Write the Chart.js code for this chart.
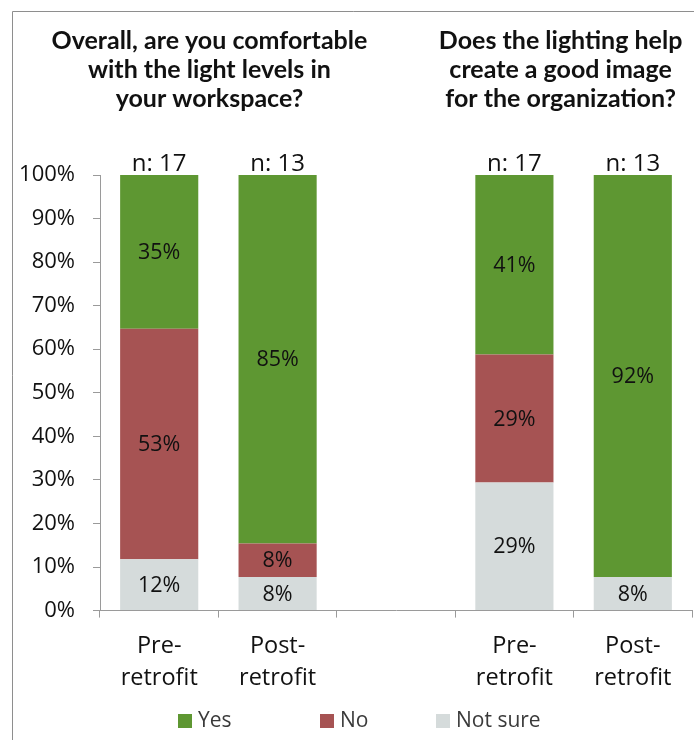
<!DOCTYPE html>
<html>
<head>
<meta charset="utf-8">
<script src="https://cdn.jsdelivr.net/npm/chart.js@4"></script>
<style>
  html, body { margin: 0; padding: 0; background: #fff; }
  #wrap { width: 694px; height: 740px; position: relative; }
</style>
</head>
<body>
<div id="wrap"><canvas id="grafico" width="694" height="740"></canvas></div>
<script>
// Datos
const categorias = [['Pre-', 'retrofit'], ['Post-', 'retrofit'], '', ['Pre-', 'retrofit'], ['Post-', 'retrofit']];
const valoresYes = [35.3, 84.6, null, 41.2, 92.3];
const valoresNo = [52.9, 7.7, null, 29.4, null];
const valoresNotSure = [11.8, 7.7, null, 29.4, 7.7];
const muestras = [17, 13, null, 17, 13];
const titulos = [
    ['Overall, are you comfortable', 'with the light levels in', 'your workspace?'],
    ['Does the lighting help', 'create a good image', 'for the organization?']
];
const ticksY = [0, 10, 20, 30, 40, 50, 60, 70, 80, 90, 100];

const FUENTE = '"Open Sans", sans-serif';
const FUENTE_TITULO = 'Lato, "Open Sans", sans-serif';
const posLeyenda = [178, 320, 436]; // x de cada cuadro de la leyenda

// Etiquetas dentro de cada segmento, "n:" arriba, títulos, leyenda y marco
const pluginTextos = {
    id: 'textos',
    beforeDraw(chart) {
        let ctx = chart.ctx;
        ctx.save();
        ctx.strokeStyle = '#8e8e8e'; ctx.lineWidth = 1;
        ctx.beginPath(); ctx.moveTo(12.5, 740); ctx.lineTo(12.5, 11.5); ctx.lineTo(694, 11.5); ctx.stroke();
        ctx.restore();
    },
    afterDatasetsDraw(chart) {
        let ctx = chart.ctx;
        let x = chart.scales.x, y = chart.scales.y;
        ctx.save();
        ctx.fillStyle = '#111';
        ctx.textAlign = 'center'; ctx.textBaseline = 'middle';
        ctx.font = '21.5px ' + FUENTE;
        chart.data.datasets.forEach((ds, i) => {
            chart.getDatasetMeta(i).data.forEach((bar, j) => {
                let v = ds.data[j];
                if (!v) return;
                let c = bar.getCenterPoint();
                ctx.fillText(Math.round(v) + '%', c.x, c.y + 1);
            });
        });
        // n: arriba de cada barra
        ctx.textBaseline = 'alphabetic';
        ctx.font = '24px ' + FUENTE;
        muestras.forEach((n, j) => {
            if (n == null) return;
            ctx.fillText('n: ' + n, x.getPixelForValue(j), y.getPixelForValue(100) - 4);
        });
        // títulos
        ctx.font = 'bold 25px ' + FUENTE_TITULO;
        let centros = [x.getPixelForValue(0.5) - 9, x.getPixelForValue(3.5) - 13];
        titulos.forEach((t, k) => {
            t.forEach((linea, l) => ctx.fillText(linea, centros[k], 49 + l * 29));
        });
        // leyenda (orden Yes, No, Not sure)
        ctx.font = '21px ' + FUENTE;
        ctx.textAlign = 'left'; ctx.textBaseline = 'middle';
        [...chart.data.datasets].reverse().forEach((ds, k) => {
            let xl = posLeyenda[k];
            ctx.fillStyle = ds.backgroundColor;
            ctx.fillRect(xl, 714, 14, 14);
            ctx.fillStyle = '#3a3a3a';
            ctx.fillText(ds.label, xl + 20, 721);
        });
        ctx.restore();
    }
};

let ctx = document.getElementById('grafico').getContext('2d');
let miGrafico = new Chart(ctx, {
    type: 'bar',
    data: {
        labels: categorias,
        datasets: [
            { label: 'Not sure', data: valoresNotSure, backgroundColor: '#d5dbdb' },
            { label: 'No', data: valoresNo, backgroundColor: '#a65353' },
            { label: 'Yes', data: valoresYes, backgroundColor: '#5e9732' }
        ]
    },
    options: {
        responsive: false, animation: false,
        layout: { padding: { top: 175, left: 19, right: 2, bottom: 33.5 } },
        datasets: { bar: { categoryPercentage: 1, barPercentage: 0.66, borderWidth: 0 } },
        plugins: { legend: { display: false }, tooltip: { enabled: false } },
        scales: {
            x: {
                stacked: true,
                grid: { display: true, drawOnChartArea: false, drawTicks: true, tickLength: 7, color: '#9a9a9a', offset: true },
                border: { color: '#9a9a9a' },
                ticks: { color: '#111', padding: 12.5, maxRotation: 0, autoSkip: false, font: { family: FUENTE, size: 23.5, lineHeight: 1.36 } }
            },
            y: {
                stacked: true, min: 0, max: 100,
                afterFit(scale) { scale.width = 81; },
                afterBuildTicks(scale) { scale.ticks = ticksY.map(v => ({ value: v })); },
                grid: { display: true, drawOnChartArea: false, drawTicks: true, tickLength: 7, color: '#9a9a9a' },
                border: { color: '#9a9a9a' },
                ticks: { color: '#111', padding: 18, callback: v => v + '%', font: { family: FUENTE, size: 22 } }
            }
        }
    },
    plugins: [pluginTextos]
});
</script>
</body>
</html>
